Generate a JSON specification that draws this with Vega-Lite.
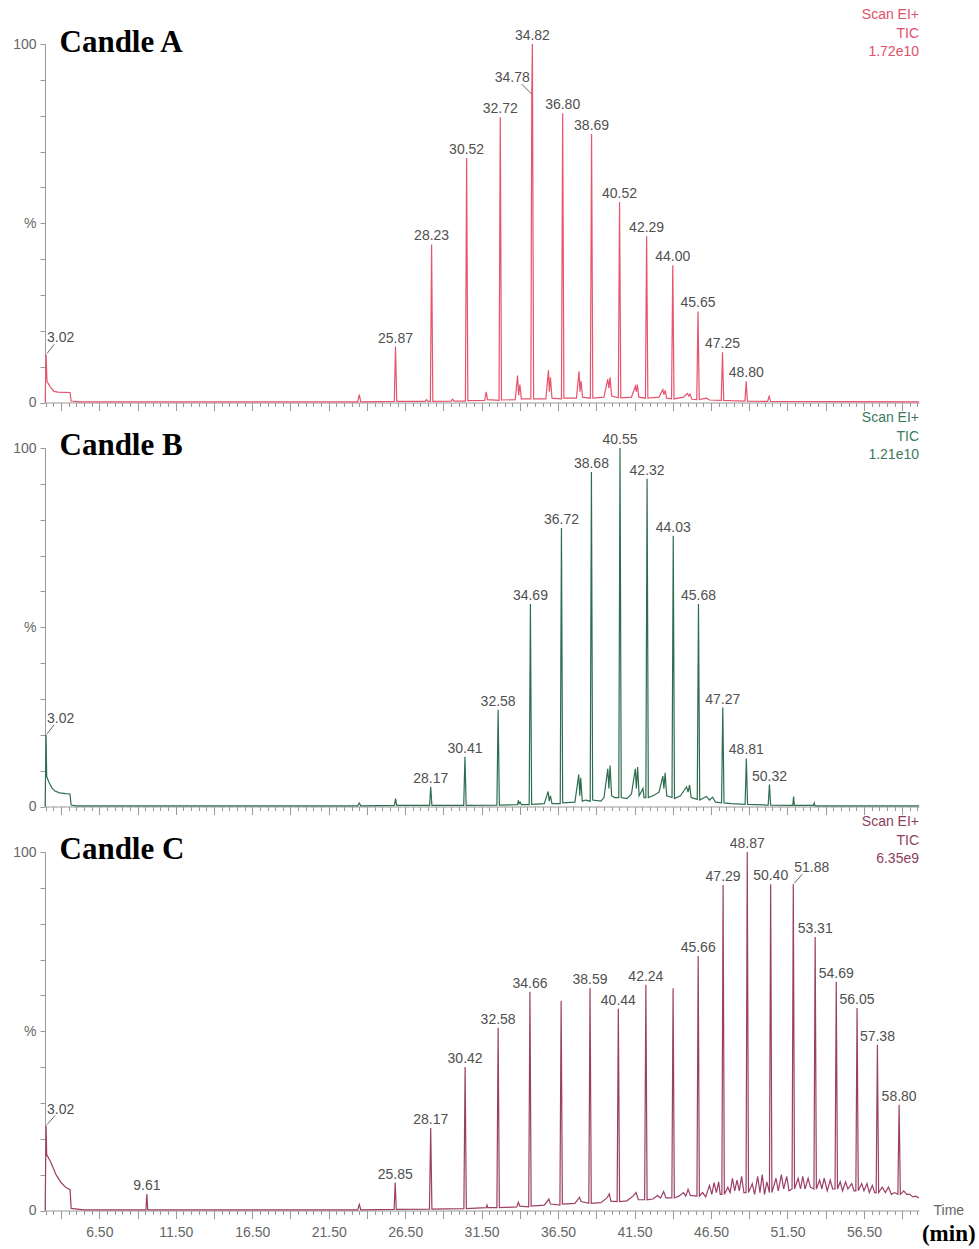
{
  "$schema": "https://vega.github.io/schema/vega-lite/v6.json",
  "padding": {"left": 12, "top": 8, "right": 2, "bottom": 0},
  "background": "white",
  "config": {
    "view": {"stroke": null},
    "font": "Liberation Sans",
    "axis": {"grid": false, "domainColor": "#999999", "tickColor": "#999999", "labelColor": "#666666", "labelFont": "Liberation Sans", "labelFontSize": 14, "labelFlush": false, "labelOverlap": false}
  },
  "title": {"text": "(min)", "orient": "bottom", "anchor": "end", "frame": "bounds", "font": "Liberation Serif", "fontSize": 23, "fontWeight": "bold", "color": "#000000", "baseline": "top", "offset": -17, "dx": 12},
  "datasets": {
    "A": [
      {"t": 2.96, "v": 0}, {"t": 3.02, "v": 13.4}, {"t": 3.08, "v": 5.9}, {"t": 3.3, "v": 4.3}, {"t": 3.54, "v": 3.1}, {"t": 3.8, "v": 2.9}, {"t": 4.2, "v": 2.85}, {"t": 4.59, "v": 2.8}, {"t": 4.66, "v": 0.4}, {"t": 5.2, "v": 0.2},
      {"t": 23.4, "v": 0.2}, {"t": 23.5, "v": 2.2}, {"t": 23.6, "v": 0.2}, {"t": 25.79, "v": 0.3}, {"t": 25.87, "v": 15.6}, {"t": 25.95, "v": 0.3},
      {"t": 27.8, "v": 0.3}, {"t": 27.9, "v": 0.8}, {"t": 28.0, "v": 0.3}, {"t": 28.15, "v": 0.3}, {"t": 28.23, "v": 44.1}, {"t": 28.31, "v": 0.3},
      {"t": 29.5, "v": 0.4}, {"t": 29.6, "v": 0.9}, {"t": 29.7, "v": 0.4}, {"t": 30.44, "v": 0.4}, {"t": 30.52, "v": 68.2}, {"t": 30.6, "v": 0.5},
      {"t": 31.7, "v": 0.6}, {"t": 31.8, "v": 3}, {"t": 31.88, "v": 0.8}, {"t": 32.64, "v": 0.6}, {"t": 32.72, "v": 79.6}, {"t": 32.8, "v": 0.7},
      {"t": 33.7, "v": 0.8}, {"t": 33.85, "v": 7.5}, {"t": 33.92, "v": 2}, {"t": 34.0, "v": 5}, {"t": 34.1, "v": 1}, {"t": 34.72, "v": 1}, {"t": 34.78, "v": 86}, {"t": 34.82, "v": 100}, {"t": 34.9, "v": 1},
      {"t": 35.7, "v": 1}, {"t": 35.87, "v": 9}, {"t": 35.93, "v": 3}, {"t": 36.0, "v": 7}, {"t": 36.1, "v": 1.2}, {"t": 36.72, "v": 1}, {"t": 36.8, "v": 80.7}, {"t": 36.88, "v": 1.2},
      {"t": 37.7, "v": 1.2}, {"t": 37.87, "v": 8.7}, {"t": 37.93, "v": 3}, {"t": 38.0, "v": 6}, {"t": 38.1, "v": 1.5}, {"t": 38.61, "v": 1.2}, {"t": 38.69, "v": 74.9}, {"t": 38.77, "v": 1.2},
      {"t": 39.5, "v": 1.5}, {"t": 39.75, "v": 6.5}, {"t": 39.82, "v": 4}, {"t": 39.9, "v": 7}, {"t": 40.0, "v": 1.8}, {"t": 40.44, "v": 1.3}, {"t": 40.52, "v": 55.9}, {"t": 40.6, "v": 1.3},
      {"t": 41.3, "v": 1.5}, {"t": 41.55, "v": 4.5}, {"t": 41.62, "v": 3}, {"t": 41.68, "v": 5}, {"t": 41.78, "v": 1.5}, {"t": 42.21, "v": 1.2}, {"t": 42.29, "v": 46.4}, {"t": 42.37, "v": 1.2},
      {"t": 43.1, "v": 1.5}, {"t": 43.35, "v": 3.6}, {"t": 43.42, "v": 2.2}, {"t": 43.5, "v": 3.4}, {"t": 43.6, "v": 1.2}, {"t": 43.92, "v": 1}, {"t": 44.0, "v": 38.3}, {"t": 44.08, "v": 1},
      {"t": 44.7, "v": 1.5}, {"t": 44.95, "v": 2.5}, {"t": 45.05, "v": 1.8}, {"t": 45.12, "v": 2.4}, {"t": 45.25, "v": 0.9}, {"t": 45.57, "v": 0.8}, {"t": 45.65, "v": 25.4}, {"t": 45.73, "v": 0.8},
      {"t": 46.2, "v": 1.2}, {"t": 46.4, "v": 0.7}, {"t": 47.17, "v": 0.6}, {"t": 47.25, "v": 14}, {"t": 47.33, "v": 0.6}, {"t": 47.8, "v": 0.5}, {"t": 48.72, "v": 0.4}, {"t": 48.8, "v": 5.9}, {"t": 48.88, "v": 0.4},
      {"t": 50.2, "v": 0.3}, {"t": 50.3, "v": 1.7}, {"t": 50.4, "v": 0.3}, {"t": 60.1, "v": 0.2}
    ],
    "PA": [
      {"t": 3.02, "v": 13.4}, {"t": 25.87, "v": 15.6}, {"t": 28.23, "v": 44.1}, {"t": 30.52, "v": 68.2}, {"t": 32.72, "v": 79.6}, {"t": 34.78, "v": 86}, {"t": 34.82, "v": 100},
      {"t": 36.8, "v": 80.7}, {"t": 38.69, "v": 74.9}, {"t": 40.52, "v": 55.9}, {"t": 42.29, "v": 46.4}, {"t": 44.0, "v": 38.3}, {"t": 45.65, "v": 25.4}, {"t": 47.25, "v": 14}, {"t": 48.8, "v": 5.9}
    ],
    "B": [
      {"t": 2.96, "v": 0}, {"t": 3.02, "v": 20}, {"t": 3.06, "v": 8.4}, {"t": 3.2, "v": 6.8}, {"t": 3.4, "v": 5.2}, {"t": 3.6, "v": 4.3}, {"t": 3.9, "v": 3.8}, {"t": 4.3, "v": 3.6}, {"t": 4.58, "v": 3.5}, {"t": 4.66, "v": 0.4}, {"t": 5.0, "v": 0.2},
      {"t": 23.4, "v": 0.2}, {"t": 23.5, "v": 1.0}, {"t": 23.6, "v": 0.2}, {"t": 25.8, "v": 0.3}, {"t": 25.87, "v": 2.2}, {"t": 25.95, "v": 0.3},
      {"t": 28.1, "v": 0.3}, {"t": 28.17, "v": 5.5}, {"t": 28.25, "v": 0.3}, {"t": 30.33, "v": 0.3}, {"t": 30.41, "v": 13.9}, {"t": 30.49, "v": 0.3},
      {"t": 32.5, "v": 0.4}, {"t": 32.58, "v": 27}, {"t": 32.66, "v": 0.4}, {"t": 33.85, "v": 0.5}, {"t": 33.9, "v": 1.7}, {"t": 33.95, "v": 0.8}, {"t": 34.02, "v": 1.2}, {"t": 34.1, "v": 0.5},
      {"t": 34.61, "v": 0.5}, {"t": 34.69, "v": 56.5}, {"t": 34.77, "v": 0.6}, {"t": 35.6, "v": 0.8}, {"t": 35.85, "v": 4.2}, {"t": 35.92, "v": 1.5}, {"t": 36.0, "v": 3.0}, {"t": 36.1, "v": 0.8},
      {"t": 36.64, "v": 0.8}, {"t": 36.72, "v": 77.7}, {"t": 36.8, "v": 1.0}, {"t": 37.6, "v": 1.2}, {"t": 37.85, "v": 8.9}, {"t": 37.92, "v": 3}, {"t": 37.98, "v": 8}, {"t": 38.08, "v": 1.5}, {"t": 38.3, "v": 1.8},
      {"t": 38.6, "v": 1.5}, {"t": 38.68, "v": 93.3}, {"t": 38.76, "v": 1.8}, {"t": 39.3, "v": 1.5}, {"t": 39.5, "v": 2.5}, {"t": 39.75, "v": 10.5}, {"t": 39.82, "v": 5}, {"t": 39.9, "v": 11.4}, {"t": 40.0, "v": 3}, {"t": 40.2, "v": 2.5},
      {"t": 40.47, "v": 2.5}, {"t": 40.55, "v": 100}, {"t": 40.63, "v": 2.5}, {"t": 41.0, "v": 2.2}, {"t": 41.3, "v": 3.5}, {"t": 41.55, "v": 10.5}, {"t": 41.62, "v": 5}, {"t": 41.7, "v": 11}, {"t": 41.8, "v": 3}, {"t": 42.05, "v": 5}, {"t": 42.12, "v": 2.5},
      {"t": 42.24, "v": 2.5}, {"t": 42.32, "v": 91.4}, {"t": 42.4, "v": 2.5}, {"t": 42.8, "v": 3.2}, {"t": 43.1, "v": 4}, {"t": 43.35, "v": 8.5}, {"t": 43.42, "v": 5}, {"t": 43.5, "v": 9.4}, {"t": 43.6, "v": 3},
      {"t": 43.95, "v": 2.5}, {"t": 44.03, "v": 75.5}, {"t": 44.11, "v": 2.2}, {"t": 44.5, "v": 3}, {"t": 44.9, "v": 5.5}, {"t": 45.0, "v": 4}, {"t": 45.1, "v": 6}, {"t": 45.2, "v": 2.5},
      {"t": 45.6, "v": 2}, {"t": 45.68, "v": 56.5}, {"t": 45.76, "v": 1.8}, {"t": 46.2, "v": 2.8}, {"t": 46.4, "v": 1.8}, {"t": 46.6, "v": 2.6}, {"t": 46.8, "v": 1.2},
      {"t": 47.19, "v": 1}, {"t": 47.27, "v": 27.6}, {"t": 47.35, "v": 1}, {"t": 47.8, "v": 0.8}, {"t": 48.73, "v": 0.6}, {"t": 48.81, "v": 13.4}, {"t": 48.89, "v": 0.6},
      {"t": 50.24, "v": 0.4}, {"t": 50.32, "v": 6.1}, {"t": 50.4, "v": 0.4}, {"t": 51.85, "v": 0.3}, {"t": 51.9, "v": 2.8}, {"t": 51.95, "v": 0.3}, {"t": 53.2, "v": 0.3}, {"t": 53.25, "v": 1}, {"t": 53.3, "v": 0.2}, {"t": 60.1, "v": 0.2}
    ],
    "PB": [
      {"t": 3.02, "v": 20}, {"t": 28.17, "v": 5.5}, {"t": 30.41, "v": 13.9}, {"t": 32.58, "v": 27}, {"t": 34.69, "v": 56.5}, {"t": 36.72, "v": 77.7}, {"t": 38.68, "v": 93.3},
      {"t": 40.55, "v": 100}, {"t": 42.32, "v": 91.4}, {"t": 44.03, "v": 75.5}, {"t": 45.68, "v": 56.5}, {"t": 47.27, "v": 27.6}, {"t": 48.81, "v": 13.4}, {"t": 50.32, "v": 6.1}
    ],
    "C": [
      {"t": 2.96, "v": 0}, {"t": 3.02, "v": 23.7}, {"t": 3.06, "v": 15.6}, {"t": 3.34, "v": 13.4}, {"t": 3.67, "v": 10}, {"t": 4.0, "v": 7.8}, {"t": 4.32, "v": 6.4}, {"t": 4.59, "v": 5.8}, {"t": 4.66, "v": 0.6}, {"t": 5.5, "v": 0.2},
      {"t": 9.55, "v": 0.2}, {"t": 9.61, "v": 4.6}, {"t": 9.67, "v": 0.2}, {"t": 23.4, "v": 0.2}, {"t": 23.5, "v": 1.7}, {"t": 23.6, "v": 0.2},
      {"t": 25.78, "v": 0.3}, {"t": 25.85, "v": 7.8}, {"t": 25.92, "v": 0.3}, {"t": 28.09, "v": 0.4}, {"t": 28.17, "v": 23}, {"t": 28.25, "v": 0.4},
      {"t": 30.34, "v": 0.5}, {"t": 30.42, "v": 40}, {"t": 30.5, "v": 0.5}, {"t": 31.8, "v": 0.8}, {"t": 31.85, "v": 1.5}, {"t": 31.9, "v": 0.8},
      {"t": 32.5, "v": 0.8}, {"t": 32.58, "v": 51}, {"t": 32.66, "v": 0.8}, {"t": 33.8, "v": 1}, {"t": 33.9, "v": 2.3}, {"t": 34.0, "v": 1.2},
      {"t": 34.58, "v": 1}, {"t": 34.66, "v": 61}, {"t": 34.74, "v": 1.2}, {"t": 35.6, "v": 1.5}, {"t": 35.9, "v": 3.2}, {"t": 36.0, "v": 1.8},
      {"t": 36.62, "v": 1.5}, {"t": 36.7, "v": 58.5}, {"t": 36.78, "v": 1.8}, {"t": 37.6, "v": 2}, {"t": 37.9, "v": 3.7}, {"t": 38.0, "v": 2.5},
      {"t": 38.51, "v": 2}, {"t": 38.59, "v": 62}, {"t": 38.67, "v": 2}, {"t": 39.3, "v": 2.2}, {"t": 39.7, "v": 3.5}, {"t": 39.85, "v": 4.6}, {"t": 39.95, "v": 2.6},
      {"t": 40.36, "v": 2.5}, {"t": 40.44, "v": 56.3}, {"t": 40.52, "v": 2.5}, {"t": 41.0, "v": 2.7}, {"t": 41.4, "v": 4}, {"t": 41.6, "v": 5}, {"t": 41.75, "v": 3},
      {"t": 42.16, "v": 3}, {"t": 42.24, "v": 63}, {"t": 42.32, "v": 3}, {"t": 42.7, "v": 3.2}, {"t": 43.0, "v": 4.2}, {"t": 43.2, "v": 3.5}, {"t": 43.4, "v": 5.3}, {"t": 43.55, "v": 3.5},
      {"t": 43.94, "v": 3.5}, {"t": 44.02, "v": 62}, {"t": 44.1, "v": 3.5}, {"t": 44.4, "v": 4}, {"t": 44.7, "v": 5}, {"t": 44.85, "v": 4}, {"t": 45.0, "v": 5.9}, {"t": 45.15, "v": 4.2},
      {"t": 45.58, "v": 4}, {"t": 45.66, "v": 71}, {"t": 45.74, "v": 4}, {"t": 45.95, "v": 5}, {"t": 46.15, "v": 3.8}, {"t": 46.4, "v": 7}, {"t": 46.55, "v": 4.5}, {"t": 46.7, "v": 7.8}, {"t": 46.85, "v": 5}, {"t": 47.0, "v": 8}, {"t": 47.1, "v": 4.5},
      {"t": 47.21, "v": 4.5}, {"t": 47.29, "v": 90.8}, {"t": 47.37, "v": 4.5}, {"t": 47.6, "v": 6.5}, {"t": 47.75, "v": 5}, {"t": 47.9, "v": 9}, {"t": 48.05, "v": 5.5}, {"t": 48.2, "v": 8.5}, {"t": 48.35, "v": 5.5}, {"t": 48.5, "v": 9.5}, {"t": 48.65, "v": 5},
      {"t": 48.79, "v": 5}, {"t": 48.87, "v": 100}, {"t": 48.95, "v": 5}, {"t": 49.2, "v": 7.5}, {"t": 49.35, "v": 4.5}, {"t": 49.55, "v": 9.5}, {"t": 49.7, "v": 5}, {"t": 49.85, "v": 10}, {"t": 50.0, "v": 4.5}, {"t": 50.15, "v": 8},
      {"t": 50.32, "v": 5}, {"t": 50.4, "v": 91}, {"t": 50.48, "v": 5}, {"t": 50.75, "v": 9}, {"t": 50.9, "v": 5.5}, {"t": 51.1, "v": 10}, {"t": 51.25, "v": 6}, {"t": 51.45, "v": 9.5}, {"t": 51.6, "v": 5.5},
      {"t": 51.8, "v": 6}, {"t": 51.88, "v": 91}, {"t": 51.96, "v": 6}, {"t": 52.2, "v": 9}, {"t": 52.35, "v": 6}, {"t": 52.5, "v": 9.5}, {"t": 52.65, "v": 6}, {"t": 52.85, "v": 9}, {"t": 53.0, "v": 6.5},
      {"t": 53.23, "v": 6}, {"t": 53.31, "v": 76.3}, {"t": 53.39, "v": 6}, {"t": 53.6, "v": 8.5}, {"t": 53.75, "v": 6}, {"t": 53.9, "v": 9}, {"t": 54.1, "v": 5.5}, {"t": 54.3, "v": 8.5}, {"t": 54.45, "v": 6},
      {"t": 54.61, "v": 6}, {"t": 54.69, "v": 63.8}, {"t": 54.77, "v": 6}, {"t": 54.95, "v": 8}, {"t": 55.1, "v": 5.5}, {"t": 55.3, "v": 8}, {"t": 55.45, "v": 6}, {"t": 55.7, "v": 7.5}, {"t": 55.85, "v": 5.5},
      {"t": 55.97, "v": 5.5}, {"t": 56.05, "v": 56.5}, {"t": 56.13, "v": 5.5}, {"t": 56.35, "v": 7.5}, {"t": 56.5, "v": 5.5}, {"t": 56.7, "v": 7.5}, {"t": 56.85, "v": 5}, {"t": 57.05, "v": 7}, {"t": 57.2, "v": 5},
      {"t": 57.3, "v": 5}, {"t": 57.38, "v": 46.2}, {"t": 57.46, "v": 5}, {"t": 57.7, "v": 6.5}, {"t": 57.9, "v": 5}, {"t": 58.1, "v": 6.5}, {"t": 58.3, "v": 4.5}, {"t": 58.5, "v": 5},
      {"t": 58.72, "v": 4.5}, {"t": 58.8, "v": 29.5}, {"t": 58.88, "v": 4.5}, {"t": 59.1, "v": 5.5}, {"t": 59.3, "v": 4.5}, {"t": 59.5, "v": 4.5}, {"t": 59.7, "v": 3.8}, {"t": 59.9, "v": 4}, {"t": 60.1, "v": 3.5}
    ],
    "PC": [
      {"t": 3.02, "v": 23.7}, {"t": 9.61, "v": 4.6}, {"t": 25.85, "v": 7.8}, {"t": 28.17, "v": 23}, {"t": 30.42, "v": 40}, {"t": 32.58, "v": 51}, {"t": 34.66, "v": 61},
      {"t": 38.59, "v": 62}, {"t": 40.44, "v": 56.3}, {"t": 42.24, "v": 63}, {"t": 45.66, "v": 71}, {"t": 47.29, "v": 90.8}, {"t": 48.87, "v": 100}, {"t": 50.4, "v": 91},
      {"t": 51.88, "v": 91}, {"t": 53.31, "v": 76.3}, {"t": 54.69, "v": 63.8}, {"t": 56.05, "v": 56.5}, {"t": 57.38, "v": 46.2}, {"t": 58.8, "v": 29.5}
    ]
  },
  "vconcat": [
    {
      "width": 874, "height": 358.5,
      "title": {"text": ["Scan EI+", "TIC", "1.72e10"], "orient": "top", "anchor": "end", "frame": "group", "align": "right", "baseline": "top", "font": "Liberation Sans", "fontSize": 14, "fontWeight": "normal", "lineHeight": 18.5, "color": "#e0506a", "offset": -33},
      "encoding": {
        "x": {"field": "t", "type": "quantitative", "scale": {"domain": [2.95, 60.1], "nice": false, "zero": false},
          "axis": {"title": null, "labels": false, "values": [3,3.5,4,4.5,5,5.5,6,6.5,7,7.5,8,8.5,9,9.5,10,10.5,11,11.5,12,12.5,13,13.5,14,14.5,15,15.5,16,16.5,17,17.5,18,18.5,19,19.5,20,20.5,21,21.5,22,22.5,23,23.5,24,24.5,25,25.5,26,26.5,27,27.5,28,28.5,29,29.5,30,30.5,31,31.5,32,32.5,33,33.5,34,34.5,35,35.5,36,36.5,37,37.5,38,38.5,39,39.5,40,40.5,41,41.5,42,42.5,43,43.5,44,44.5,45,45.5,46,46.5,47,47.5,48,48.5,49,49.5,50,50.5,51,51.5,52,52.5,53,53.5,54,54.5,55,55.5,56,56.5,57,57.5,58,58.5,59,59.5,60],
            "tickSize": {"condition": {"test": "abs((datum.value-1.5)/2.5 - round((datum.value-1.5)/2.5)) < 0.01", "value": 8}, "value": 4}}},
        "y": {"field": "v", "type": "quantitative", "scale": {"domain": [0, 100], "nice": false},
          "axis": {"values": [0,10,20,30,40,50,60,70,80,90,100], "labelExpr": "datum.value==100?'100':datum.value==50?'%':datum.value==0?'0':''", "tickSize": 5, "labelPadding": 4,
            "title": "Candle A", "titleAngle": 0, "titleAlign": "left", "titleBaseline": "alphabetic", "titleX": 14, "titleY": 7, "titleFont": "Liberation Serif", "titleFontSize": 31, "titleFontWeight": "bold", "titleColor": "#000000"}}
      },
      "layer": [
        {"data": {"name": "A"}, "mark": {"type": "line", "color": "#e8536d", "strokeWidth": 1.2}},
        {"data": {"name": "PA"}, "transform": [{"filter": "datum.t > 4 && datum.t != 34.78"}],
          "mark": {"type": "text", "align": "center", "baseline": "alphabetic", "dy": -4, "fontSize": 14, "font": "Liberation Sans", "color": "#505050"},
          "encoding": {"text": {"field": "t", "type": "quantitative", "format": ".2f"}}},
        {"data": {"name": "PA"}, "transform": [{"filter": "datum.t < 4"}],
          "mark": {"type": "text", "align": "left", "baseline": "alphabetic", "dx": 1, "dy": -12, "fontSize": 14, "font": "Liberation Sans", "color": "#505050"},
          "encoding": {"text": {"field": "t", "type": "quantitative", "format": ".2f"}}},
        {"data": {"name": "PA"}, "transform": [{"filter": "datum.t < 4"}],
          "mark": {"type": "rule", "color": "#666666", "strokeWidth": 1, "xOffset": 1, "yOffset": -1, "x2Offset": 8, "y2Offset": -10},
          "encoding": {"x2": {"field": "t"}, "y2": {"field": "v"}}},
        {"data": {"name": "PA"}, "transform": [{"filter": "datum.t == 34.78"}],
          "mark": {"type": "text", "align": "right", "baseline": "alphabetic", "dx": -2, "dy": -12, "fontSize": 14, "font": "Liberation Sans", "color": "#505050"},
          "encoding": {"text": {"field": "t", "type": "quantitative", "format": ".2f"}}},
        {"data": {"name": "PA"}, "transform": [{"filter": "datum.t == 34.78"}],
          "mark": {"type": "rule", "color": "#666666", "strokeWidth": 1, "xOffset": 0, "yOffset": 0, "x2Offset": -10, "y2Offset": -10},
          "encoding": {"x2": {"field": "t"}, "y2": {"field": "v"}}}
      ]
    },
    {
      "width": 874, "height": 358.5,
      "title": {"text": ["Scan EI+", "TIC", "1.21e10"], "orient": "top", "anchor": "end", "frame": "group", "align": "right", "baseline": "top", "font": "Liberation Sans", "fontSize": 14, "fontWeight": "normal", "lineHeight": 18.5, "color": "#3a7a5a", "offset": -33},
      "encoding": {
        "x": {"field": "t", "type": "quantitative", "scale": {"domain": [2.95, 60.1], "nice": false, "zero": false},
          "axis": {"title": null, "labels": false, "values": [3,3.5,4,4.5,5,5.5,6,6.5,7,7.5,8,8.5,9,9.5,10,10.5,11,11.5,12,12.5,13,13.5,14,14.5,15,15.5,16,16.5,17,17.5,18,18.5,19,19.5,20,20.5,21,21.5,22,22.5,23,23.5,24,24.5,25,25.5,26,26.5,27,27.5,28,28.5,29,29.5,30,30.5,31,31.5,32,32.5,33,33.5,34,34.5,35,35.5,36,36.5,37,37.5,38,38.5,39,39.5,40,40.5,41,41.5,42,42.5,43,43.5,44,44.5,45,45.5,46,46.5,47,47.5,48,48.5,49,49.5,50,50.5,51,51.5,52,52.5,53,53.5,54,54.5,55,55.5,56,56.5,57,57.5,58,58.5,59,59.5,60],
            "tickSize": {"condition": {"test": "abs((datum.value-1.5)/2.5 - round((datum.value-1.5)/2.5)) < 0.01", "value": 8}, "value": 4}}},
        "y": {"field": "v", "type": "quantitative", "scale": {"domain": [0, 100], "nice": false},
          "axis": {"values": [0,10,20,30,40,50,60,70,80,90,100], "labelExpr": "datum.value==100?'100':datum.value==50?'%':datum.value==0?'0':''", "tickSize": 5, "labelPadding": 4,
            "title": "Candle B", "titleAngle": 0, "titleAlign": "left", "titleBaseline": "alphabetic", "titleX": 14, "titleY": 6, "titleFont": "Liberation Serif", "titleFontSize": 31, "titleFontWeight": "bold", "titleColor": "#000000"}}
      },
      "layer": [
        {"data": {"name": "B"}, "mark": {"type": "line", "color": "#2e6e50", "strokeWidth": 1.2}},
        {"data": {"name": "PB"}, "transform": [{"filter": "datum.t > 4"}],
          "mark": {"type": "text", "align": "center", "baseline": "alphabetic", "dy": -4, "fontSize": 14, "font": "Liberation Sans", "color": "#505050"},
          "encoding": {"text": {"field": "t", "type": "quantitative", "format": ".2f"}}},
        {"data": {"name": "PB"}, "transform": [{"filter": "datum.t < 4"}],
          "mark": {"type": "text", "align": "left", "baseline": "alphabetic", "dx": 1, "dy": -12, "fontSize": 14, "font": "Liberation Sans", "color": "#505050"},
          "encoding": {"text": {"field": "t", "type": "quantitative", "format": ".2f"}}},
        {"data": {"name": "PB"}, "transform": [{"filter": "datum.t < 4"}],
          "mark": {"type": "rule", "color": "#666666", "strokeWidth": 1, "xOffset": 1, "yOffset": -1, "x2Offset": 8, "y2Offset": -10},
          "encoding": {"x2": {"field": "t"}, "y2": {"field": "v"}}}
      ]
    },
    {
      "width": 874, "height": 358.5,
      "title": {"text": ["Scan EI+", "TIC", "6.35e9"], "orient": "top", "anchor": "end", "frame": "group", "align": "right", "baseline": "top", "font": "Liberation Sans", "fontSize": 14, "fontWeight": "normal", "lineHeight": 18.5, "color": "#8c4060", "offset": -33},
      "encoding": {
        "x": {"field": "t", "type": "quantitative", "scale": {"domain": [2.95, 60.1], "nice": false, "zero": false},
          "axis": {"title": "Time", "titleX": 888, "titleY": 0, "titleAlign": "left", "titleBaseline": "middle", "titleAngle": 0, "titleFont": "Liberation Sans", "titleFontSize": 14, "titleFontWeight": "normal", "titleColor": "#666666",
            "labelExpr": "abs((datum.value-1.5)/5 - round((datum.value-1.5)/5)) < 0.01 ? format(datum.value, '.2f') : ''", "labelPadding": 7,
            "values": [3,3.5,4,4.5,5,5.5,6,6.5,7,7.5,8,8.5,9,9.5,10,10.5,11,11.5,12,12.5,13,13.5,14,14.5,15,15.5,16,16.5,17,17.5,18,18.5,19,19.5,20,20.5,21,21.5,22,22.5,23,23.5,24,24.5,25,25.5,26,26.5,27,27.5,28,28.5,29,29.5,30,30.5,31,31.5,32,32.5,33,33.5,34,34.5,35,35.5,36,36.5,37,37.5,38,38.5,39,39.5,40,40.5,41,41.5,42,42.5,43,43.5,44,44.5,45,45.5,46,46.5,47,47.5,48,48.5,49,49.5,50,50.5,51,51.5,52,52.5,53,53.5,54,54.5,55,55.5,56,56.5,57,57.5,58,58.5,59,59.5,60],
            "tickSize": {"condition": {"test": "abs((datum.value-1.5)/2.5 - round((datum.value-1.5)/2.5)) < 0.01", "value": 8}, "value": 4}}},
        "y": {"field": "v", "type": "quantitative", "scale": {"domain": [0, 100], "nice": false},
          "axis": {"values": [0,10,20,30,40,50,60,70,80,90,100], "labelExpr": "datum.value==100?'100':datum.value==50?'%':datum.value==0?'0':''", "tickSize": 5, "labelPadding": 4,
            "title": "Candle C", "titleAngle": 0, "titleAlign": "left", "titleBaseline": "alphabetic", "titleX": 14, "titleY": 6, "titleFont": "Liberation Serif", "titleFontSize": 31, "titleFontWeight": "bold", "titleColor": "#000000"}}
      },
      "layer": [
        {"data": {"name": "C"}, "mark": {"type": "line", "color": "#9b3f66", "strokeWidth": 1.2}},
        {"data": {"name": "PC"}, "transform": [{"filter": "datum.t > 4 && datum.t != 51.88"}],
          "mark": {"type": "text", "align": "center", "baseline": "alphabetic", "dy": -4, "fontSize": 14, "font": "Liberation Sans", "color": "#505050"},
          "encoding": {"text": {"field": "t", "type": "quantitative", "format": ".2f"}}},
        {"data": {"name": "PC"}, "transform": [{"filter": "datum.t < 4 || datum.t == 51.88"}],
          "mark": {"type": "text", "align": "left", "baseline": "alphabetic", "dx": 1, "dy": -12, "fontSize": 14, "font": "Liberation Sans", "color": "#505050"},
          "encoding": {"text": {"field": "t", "type": "quantitative", "format": ".2f"}}},
        {"data": {"name": "PC"}, "transform": [{"filter": "datum.t < 4 || datum.t == 51.88"}],
          "mark": {"type": "rule", "color": "#666666", "strokeWidth": 1, "xOffset": 1, "yOffset": -1, "x2Offset": 9, "y2Offset": -10},
          "encoding": {"x2": {"field": "t"}, "y2": {"field": "v"}}}
      ]
    }
  ],
  "spacing": 45,
  "bounds": "flush"
}
